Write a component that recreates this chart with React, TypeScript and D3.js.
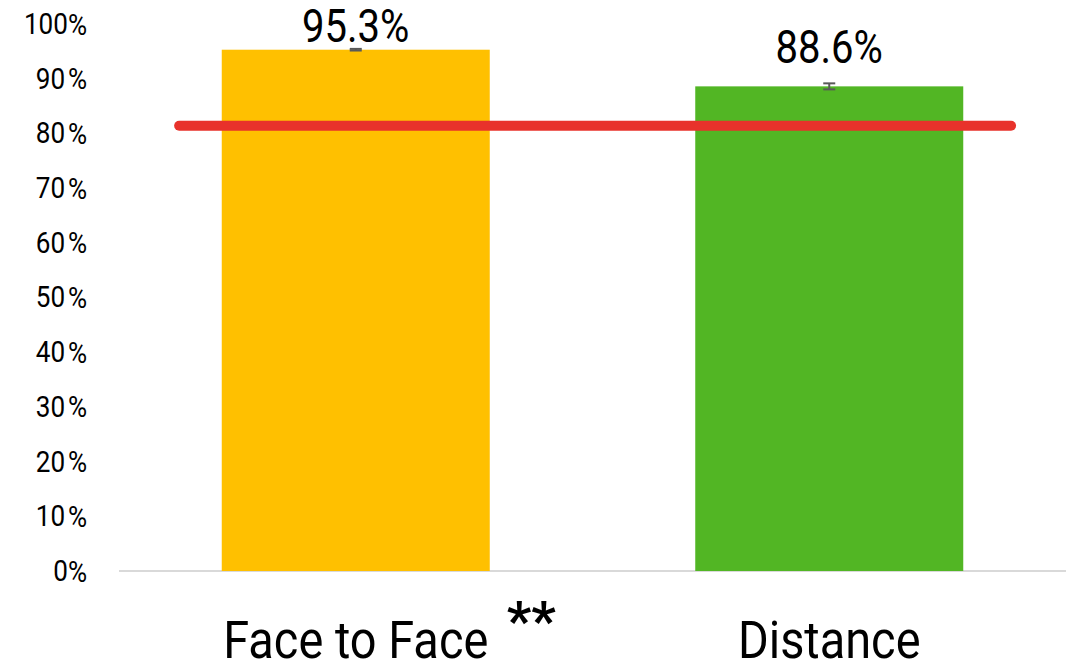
import React from "react";
import * as d3 from "d3";

const categories = ["Face to Face", "Distance"];
const values = [95.3, 88.6];
const errors = [0.15, 0.55];
const barColors = ["#FFC000", "#52B624"];
const significance = ["**", ""];
const threshold = 81.4;
const yTicks = [0, 10, 20, 30, 40, 50, 60, 70, 80, 90, 100];

const W = 1071;
const H = 666;
const FONT = "Roboto, 'Liberation Sans', sans-serif";

export default function App() {
  const x = d3
    .scaleBand<string>()
    .domain(categories)
    .range([119, 1066])
    .paddingInner(0.434)
    .paddingOuter(0.217);
  const y = d3.scaleLinear().domain([0, 100]).range([571, 24]);
  const step = x.step();
  const cx = (c: string) => (x(c) as number) + x.bandwidth() / 2;

  const lineX1 = cx(categories[0]) - 0.373 * step;
  const lineX2 = cx(categories[categories.length - 1]) + 0.384 * step;

  return (
    <svg
      width={W}
      height={H}
      style={{ position: "absolute", left: 0, top: 0, background: "#fff" }}
      fontFamily={FONT}
    >
      {/* y tick labels */}
      {yTicks.map((t) => (
        <g key={t} transform={`translate(87,${y(t)}) scale(0.9,1)`}>
          <text
            textAnchor="end"
            dominantBaseline="central"
            fontSize={29}
            fill="#000"
          >
            {t}
            <tspan dx={t > 0 && t < 100 ? 3 : 0}>%</tspan>
          </text>
        </g>
      ))}

      {/* baseline axis */}
      <line x1={119} x2={1066} y1={y(0)} y2={y(0)} stroke="#D9D9D9" strokeWidth={2} />

      {/* bars */}
      {categories.map((c, i) => (
        <rect
          key={c}
          x={x(c)}
          y={y(values[i])}
          width={x.bandwidth()}
          height={y(0) - y(values[i])}
          fill={barColors[i]}
        />
      ))}

      {/* error bars */}
      {categories.map((c, i) => {
        const xc = cx(c);
        const top = y(values[i] + errors[i]);
        const bot = y(values[i] - errors[i]);
        return (
          <g key={c} stroke="#595959" strokeWidth={2}>
            <line x1={xc} x2={xc} y1={top} y2={bot} />
            <line x1={xc - 6} x2={xc + 6} y1={top} y2={top} />
            <line x1={xc - 6} x2={xc + 6} y1={bot} y2={bot} />
          </g>
        );
      })}

      {/* threshold line */}
      <line
        x1={lineX1}
        x2={lineX2}
        y1={y(threshold)}
        y2={y(threshold)}
        stroke="#E8322B"
        strokeWidth={10}
        strokeLinecap="round"
      />

      {/* value labels */}
      {categories.map((c, i) => {
        const ly = Math.max(y(values[i]) - 23, 42);
        return (
          <g key={c} transform={`translate(${cx(c)},${ly}) scale(0.87,1)`}>
            <text textAnchor="middle" fontSize={46} fill="#000">
              {values[i].toFixed(1)}%
            </text>
          </g>
        );
      })}

      {/* category labels */}
      {categories.map((c, i) => (
        <g key={c}>
          <g transform={`translate(${cx(c)},658) scale(0.92,1)`}>
            <text textAnchor="middle" fontSize={51} fill="#000">
              {c}
            </text>
          </g>
          {significance[i] && (
            <text
              x={cx(c) + 151}
              y={639}
              fontSize={54}
              fontWeight="bold"
              fill="#000"
            >
              {significance[i]}
            </text>
          )}
        </g>
      ))}
    </svg>
  );
}
